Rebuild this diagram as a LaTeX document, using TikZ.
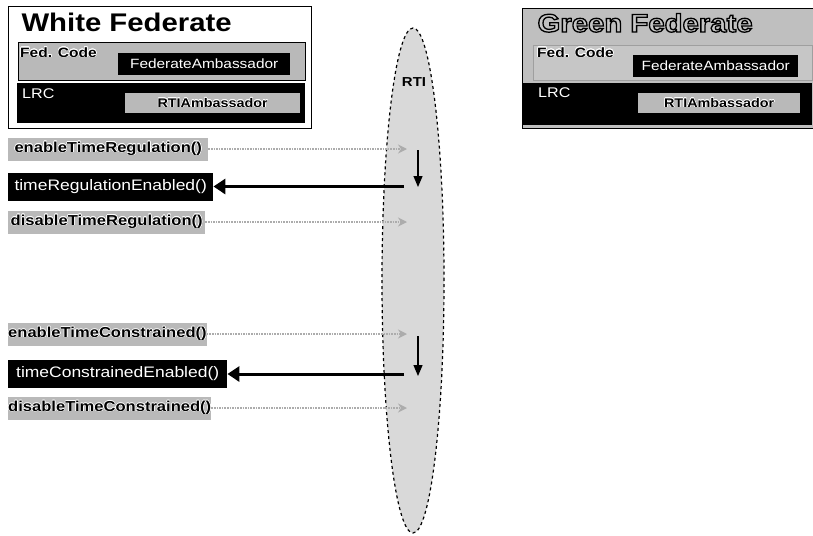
\documentclass[tikz,border=0pt]{standalone}
\usepackage{fontspec}
\setmainfont[FakeStretch=1.15]{Liberation Sans}
\usepackage{contour}
\usetikzlibrary{shapes.geometric,arrows.meta}

\newcommand{\halo}[1]{{\contourlength{0.5pt}\contour{white}{#1}}}
% outlined title text
\newcommand{\hollow}[1]{\special{pdf:literal direct 2 Tr 1.3 w 0 0 0 RG}#1\special{pdf:literal direct 0 Tr 0.4 w}}

\tikzset{
	callbox/.style={fill=gray!55, anchor=west, minimum height=23pt, inner sep=0pt,
		font=\fontsize{14.4}{16}\selectfont\bfseries},
	backbox/.style={fill=black, text=white, anchor=west, minimum height=28pt, inner sep=0pt,
		font=\fontsize{15.2}{17}\selectfont},
	ambbox/.style={anchor=north west, inner sep=0pt},
	callarrow/.style={densely dotted, line width=1.6pt, gray!65, -{Stealth[length=9pt, width=9pt]}},
	backarrow/.style={line width=3pt, -{Triangle[length=12pt, width=15pt]}},
	downarrow/.style={line width=1.3pt, -{Triangle[length=11pt, width=9pt]}},
}

\begin{document}
\begin{tikzpicture}[x=1pt, y=-1pt]
	\useasboundingbox (0,0) rectangle (813,535);

	% RTI
	\node[ellipse, draw, dashed, line width=1.2pt, fill=gray!30, minimum width=62pt, minimum height=505pt, inner sep=0pt] (rti) at (413,280.5) {};
	\node[font=\fontsize{13}{15}\selectfont\bfseries] (rtilabel) at (414,82) {RTI};

	% White Federate
	\node[ambbox, draw, fill=white, line width=1pt, minimum width=303pt, minimum height=122pt] (white) at (8,6) {};
	\node[anchor=base west, font=\fontsize{25.5}{28}\selectfont\bfseries] (whitetitle) at (18,32) {White Federate};
	\node[ambbox, draw, fill=gray!55, minimum width=287pt, minimum height=38pt] (wcode) at (18,42) {};
	\node[anchor=base west, inner sep=0pt, font=\fontsize{13.5}{15}\selectfont\bfseries] (wcodetext) at (20,57) {\halo{Fed. Code}};
	\node[ambbox, fill=black, text=white, minimum width=172pt, minimum height=22pt, font=\fontsize{13.4}{15}\selectfont] (wfed) at (118,53) {FederateAmbassador};
	\node[ambbox, fill=black, minimum width=288pt, minimum height=40pt] (wlrc) at (17,83) {};
	\node[anchor=base west, inner sep=0pt, text=white, font=\fontsize{14}{16}\selectfont] (wlrctext) at (22,98) {LRC};
	\node[ambbox, fill=gray!55, minimum width=175pt, minimum height=20pt, font=\fontsize{12.5}{14}\selectfont\bfseries] (wrti) at (125,93) {\halo{RTIAmbassador}};

	% Green Federate
	\node[ambbox, draw, fill=gray!50, minimum width=291pt, minimum height=120pt] (green) at (522,8) {};
	\node[anchor=base west, text=gray!45, font=\fontsize{25.5}{28}\selectfont\bfseries] (greentitle) at (534,32) {\hollow{Green Federate}};
	\node[ambbox, draw=gray!75, fill=gray!45, minimum width=279pt, minimum height=35pt] (gcode) at (533,45) {};
	\node[anchor=base west, inner sep=0pt, font=\fontsize{13.5}{15}\selectfont\bfseries] (gcodetext) at (537,57) {\halo{Fed. Code}};
	\node[ambbox, fill=black, text=white, minimum width=165pt, minimum height=22pt, font=\fontsize{13.4}{15}\selectfont] (gfed) at (633,55) {FederateAmbassador};
	\node[ambbox, fill=black, minimum width=289pt, minimum height=42pt] (glrc) at (523,83) {};
	\node[anchor=base west, inner sep=0pt, text=white, font=\fontsize{14}{16}\selectfont] (glrctext) at (538,97) {LRC};
	\node[ambbox, fill=gray!55, minimum width=162pt, minimum height=20pt, font=\fontsize{12.5}{14}\selectfont\bfseries] (grti) at (638,93) {\halo{RTIAmbassador}};

	% calls
	\node[callbox, minimum width=200pt] (enreg) at (8,149) {\halo{enableTimeRegulation()}};
	\node[backbox, minimum width=205pt] (regon) at (8,186.5) {timeRegulationEnabled()};
	\node[callbox, minimum width=197pt] (disreg) at (8,222) {\halo{disableTimeRegulation()}};
	\node[callbox, minimum width=192pt] (encon) at (8,334) {\halo{enableTimeConstrained()}};
	\node[backbox, minimum width=219pt] (conon) at (8,374) {timeConstrainedEnabled()};
	\node[callbox, minimum width=192pt] (discon) at (8,408) {\halo{disableTimeConstrained()}};

	\coordinate (rtiin) at (407,0);
	\coordinate (rtiout) at (404,0);
	\coordinate (reg1) at (418,150);
	\coordinate (reg2) at (418,187);
	\coordinate (con1) at (418,336);
	\coordinate (con2) at (418,376);

	\draw[callarrow] (enreg.east) -- (enreg.east -| rtiin);
	\draw[backarrow] (regon.east -| rtiout) -- (regon.east);
	\draw[callarrow] (disreg.east) -- (disreg.east -| rtiin);
	\draw[downarrow] (reg1) -- (reg2);

	\draw[callarrow] (encon.east) -- (encon.east -| rtiin);
	\draw[backarrow] (conon.east -| rtiout) -- (conon.east);
	\draw[callarrow] (discon.east) -- (discon.east -| rtiin);
	\draw[downarrow] (con1) -- (con2);
\end{tikzpicture}
\end{document}
